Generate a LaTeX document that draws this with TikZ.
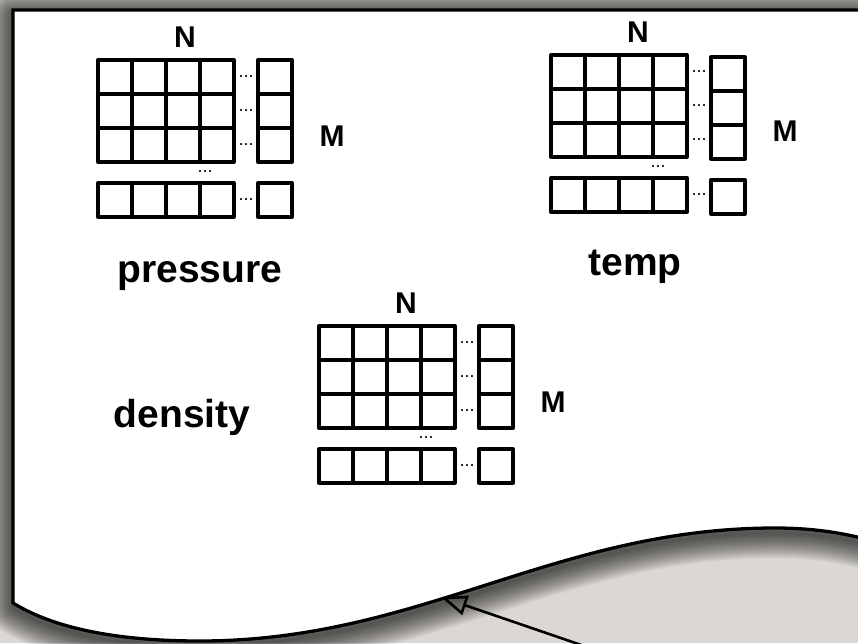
\documentclass[tikz,border=0pt]{standalone}
\usepackage{fontspec}
\setmainfont{Liberation Sans}
\usetikzlibrary{arrows.meta}

\definecolor{desk}{RGB}{219,216,211}

\tikzset{
  cell/.style={draw=black, line width=3.3pt, line join=round},
  dots/.style={inner sep=0pt, font=\fontsize{18}{18}\selectfont},
  dimlabel/.style={inner sep=0pt, anchor=base, font=\fontsize{30}{30}\selectfont\bfseries},
  title/.style={inner sep=0pt, anchor=base, font=\fontsize{39}{39}\selectfont\bfseries},
  paper/.style={fill=white, draw=black, line width=3.3pt},
  sheetshade/.style={draw=black, draw opacity=0.027, line join=round},
  pointer/.style={draw=black, line width=2.6pt,
    -{Triangle[open, length=26pt, width=20pt]}},
}

% outline of the sheet, with its wavy lower edge
\newcommand{\sheetpath}{(900,10) -- (13,10) -- (13,603)
    .. controls (60,632) and (130,641) .. (200,641)
    .. controls (420,641) and (555,528) .. (775,528)
    .. controls (820,528) and (860,535) .. (900,550) -- cycle}

% An N x M array sketch: 4x3 block, side column, bottom row and ellipses.
% #1 name, #2/#3 top-left corner, #4 extra drop of the side column
\newcommand{\arrayblock}[4]{%
\begin{scope}[shift={(#2,#3)}]
  \foreach \c in {0,...,3} {
    \foreach \r in {0,1,2} \draw[cell] (\c*34,\r*34) rectangle ++(34,34);
    \draw[cell] (\c*34,123) rectangle ++(34,34);
  }
  \foreach \r in {0,1,2} {
    \draw[cell] (160,\r*34+#4) rectangle ++(34,34);
    \node[dots] (#1-row\r) at (148,\r*34+17) {...};
  }
  \draw[cell] (160,123+#4) rectangle ++(34,34);
  \node[dots] (#1-last) at (148,140) {...};
  \node[dots] (#1-gap) at (107,112) {...};
  \node[dimlabel] (#1-N) at (87,-13) {N};
  \node[dimlabel] (#1-M) at (234,86) {M};
\end{scope}}

\begin{document}
\begin{tikzpicture}[x=1pt, y=-1pt]
  \useasboundingbox (0,0) rectangle (858,643);
  \clip (0,0) rectangle (858,643);
  \fill[desk] (0,0) rectangle (858,643);

  % soft drop shadow: stacked translucent strokes around the outline
  \foreach \i in {1,...,30}
    \draw[sheetshade, line width=\i*1.7pt, yshift=-5pt] \sheetpath;

  % the sheet
  \draw[paper] \sheetpath;

  \arrayblock{pressure}{98}{60}{0}
  \arrayblock{temp}{551}{55}{2}
  \arrayblock{density}{319}{326}{0}

  \node[title] (lpressure) at (200,282) {pressure};
  \node[title] (ltemp) at (635,275) {temp};
  \node[title] (ldensity) at (182,427) {density};

  \coordinate (tail) at (590,648);
  \coordinate (tip) at (441,597);
  \draw[pointer] (tail) -- (tip);
\end{tikzpicture}
\end{document}
